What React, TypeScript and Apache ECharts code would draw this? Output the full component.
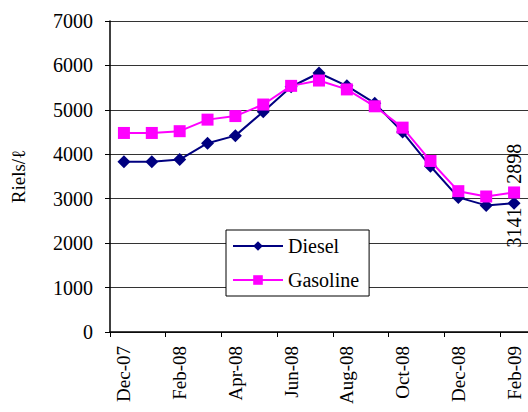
import React, { useEffect, useRef } from "react";
import * as echarts from "echarts";

const months = [
  "Dec-07", "Jan-08", "Feb-08", "Mar-08", "Apr-08", "May-08", "Jun-08", "Jul-08",
  "Aug-08", "Sep-08", "Oct-08", "Nov-08", "Dec-08", "Jan-09", "Feb-09",
];
const diesel = [3830, 3830, 3880, 4250, 4420, 4960, 5520, 5830, 5540, 5150, 4500, 3730, 3030, 2850, 2898];
const gasoline = [4480, 4480, 4520, 4780, 4860, 5120, 5540, 5660, 5460, 5080, 4600, 3850, 3170, 3050, 3141];

const FONT = "'Liberation Serif', 'Times New Roman', serif";

export default function App() {
  const ref = useRef<HTMLDivElement>(null);
  useEffect(() => {
    if (!ref.current) return;
    const chart = echarts.init(ref.current, undefined, { renderer: "svg" });
    const last = months.length - 1;
    chart.setOption({
      animation: false,
      backgroundColor: "#fff",
      textStyle: { fontFamily: FONT, color: "#000" },
      grid: { left: 110, top: 21, bottom: 80, right: -2, containLabel: false },
      legend: {
        orient: "vertical",
        left: 226,
        top: 230,
        backgroundColor: "#fff",
        borderColor: "#000",
        borderWidth: 1,
        padding: [6, 10, 6, 6],
        itemWidth: 50,
        itemHeight: 12,
        itemGap: 14,
        textStyle: { fontFamily: FONT, fontSize: 20, color: "#000" },
        data: ["Diesel", "Gasoline"],
      },
      xAxis: {
        type: "category",
        data: months,
        boundaryGap: true,
        axisLine: { lineStyle: { color: "#000", width: 1.5 } },
        axisTick: { show: true, interval: 1, length: 5, lineStyle: { color: "#000" } },
        axisLabel: {
          interval: 1,
          rotate: 90,
          margin: 14,
          fontFamily: FONT,
          fontSize: 19,
          color: "#000",
        },
        splitLine: { show: false },
      },
      yAxis: {
        type: "value",
        min: 0,
        max: 7000,
        interval: 1000,
        name: "Riels/ℓ",
        nameLocation: "middle",
        nameGap: 82,
        nameRotate: 90,
        nameTextStyle: { fontFamily: FONT, fontSize: 19, color: "#000" },
        axisLine: { show: true, lineStyle: { color: "#000", width: 1.5 } },
        axisTick: { show: true, length: 5, inside: false, lineStyle: { color: "#000" } },
        axisLabel: {
          margin: 17,
          fontFamily: FONT,
          fontSize: 20,
          color: "#000",
          formatter: (v: number) => String(v),
        },
        splitLine: { show: true, lineStyle: { color: "#333", width: 1 } },
      },
      series: [
        {
          name: "Diesel",
          type: "line",
          data: diesel.map((v, i) =>
            i === last
              ? {
                  value: v,
                  label: {
                    show: true,
                    position: "top",
                    distance: 13,
                    rotate: 90,
                    align: "left",
                    verticalAlign: "middle",
                    fontFamily: FONT,
                    fontSize: 20,
                    color: "#000",
                  },
                }
              : v
          ),
          color: "#000080",
          symbol: "diamond",
          symbolSize: 13,
          showAllSymbol: true,
          lineStyle: { color: "#000080", width: 2 },
          itemStyle: { color: "#000080" },
          z: 2,
        },
        {
          name: "Gasoline",
          type: "line",
          data: gasoline.map((v, i) =>
            i === last
              ? {
                  value: v,
                  label: {
                    show: true,
                    position: "bottom",
                    distance: 9,
                    rotate: 90,
                    align: "right",
                    verticalAlign: "middle",
                    fontFamily: FONT,
                    fontSize: 20,
                    color: "#000",
                  },
                }
              : v
          ),
          color: "#FF00FF",
          symbol: "rect",
          symbolSize: 12,
          showAllSymbol: true,
          lineStyle: { color: "#FF00FF", width: 2 },
          itemStyle: { color: "#FF00FF" },
          z: 3,
        },
      ],
    });
    return () => chart.dispose();
  }, []);
  return <div ref={ref} style={{ width: 528, height: 412, position: "absolute", left: 0, top: 0 }} />;
}
